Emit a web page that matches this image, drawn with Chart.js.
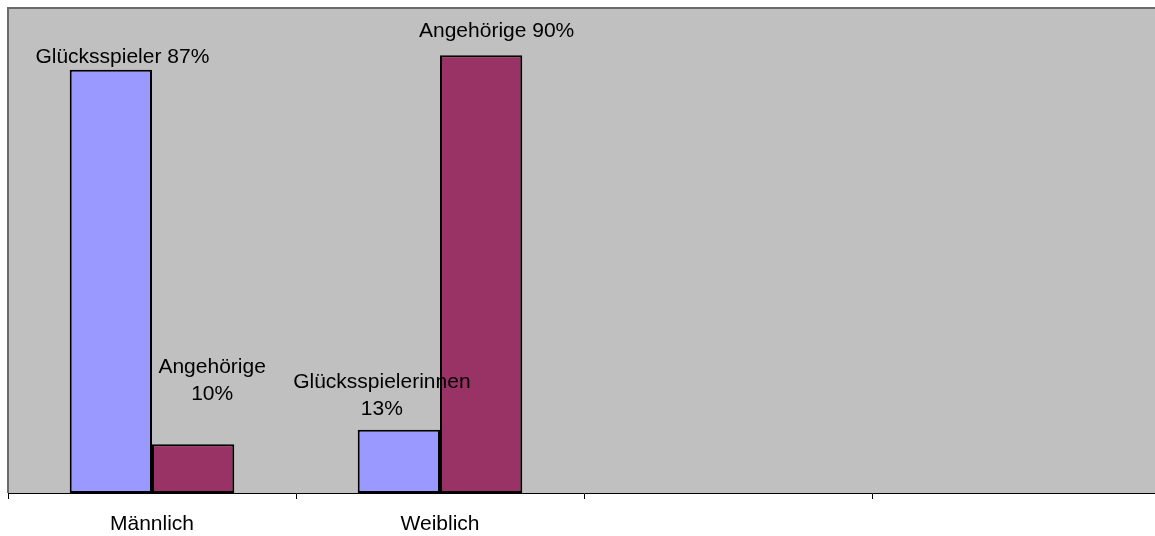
<!DOCTYPE html>
<html lang="de">
<head>
<meta charset="utf-8">
<title>Glücksspieler und Angehörige nach Geschlecht</title>
<script src="https://cdn.jsdelivr.net/npm/chart.js@4/dist/chart.umd.min.js"></script>
<style>
  html, body { margin: 0; padding: 0; background: #ffffff; overflow: hidden; }
  #wrap { width: 1155px; height: 536px; overflow: hidden; position: relative; }
  canvas { display: block; }
</style>
</head>
<body>
<div id="wrap"><canvas id="chart" width="1162" height="536"></canvas></div>
<script>
// Kategorien und Werte (Prozent)
const categories = ['Männlich', 'Weiblich', '', ''];
const spielerWerte = [87, 13, null, null];
const angehoerigeWerte = [10, 90, null, null];
const spielerNamen = ['Glücksspieler', 'Glücksspielerinnen'];
const angehoerigeNamen = ['Angehörige', 'Angehörige'];

const FONT = '"Liberation Sans", Arial, Helvetica, sans-serif';

// Grauer Plotbereich mit Rahmen oben und links
const plotFrame = {
  id: 'plotFrame',
  beforeDatasetsDraw(chart) {
    const { ctx, chartArea: a } = chart;
    ctx.save();
    ctx.fillStyle = '#c0c0c0';
    ctx.fillRect(a.left, a.top, a.right - a.left, a.bottom - a.top);
    ctx.strokeStyle = '#6a6a6a';
    ctx.lineWidth = 2;
    ctx.beginPath();
    ctx.moveTo(a.left, a.bottom);
    ctx.lineTo(a.left, a.top);
    ctx.lineTo(a.right, a.top);
    ctx.stroke();
    ctx.restore();
  }
};

// Datenbeschriftungen, frei neben den Säulen platziert
const barLabels = {
  id: 'barLabels',
  afterDatasetsDraw(chart, args, opts) {
    const { ctx } = chart;
    ctx.save();
    ctx.font = opts.size + 'px ' + FONT;
    ctx.fillStyle = '#000000';
    ctx.textAlign = 'center';
    ctx.textBaseline = 'alphabetic';
    opts.items.forEach(it => {
      const ds = chart.data.datasets[it.dataset];
      const v = ds.data[it.index];
      if (v == null) return;
      const bar = chart.getDatasetMeta(it.dataset).data[it.index];
      const name = ds.names[it.index];
      const lines = it.wrap ? [name, v + '%'] : [name + ' ' + v + '%'];
      const x = bar.x + it.dx;
      const yLast = bar.y + it.dy;
      lines.forEach((t, i) => {
        ctx.fillText(t, x, yLast - (lines.length - 1 - i) * opts.lineHeight);
      });
    });
    ctx.restore();
  }
};

new Chart(document.getElementById('chart'), {
  type: 'bar',
  data: {
    labels: categories,
    datasets: [
      {
        label: 'Glücksspieler/innen',
        data: spielerWerte,
        names: spielerNamen,
        backgroundColor: '#9999ff',
        borderColor: '#000000',
        borderWidth: 2,
        borderSkipped: false
      },
      {
        label: 'Angehörige',
        data: angehoerigeWerte,
        names: angehoerigeNamen,
        backgroundColor: '#993366',
        borderColor: '#000000',
        borderWidth: 2,
        borderSkipped: false
      }
    ]
  },
  options: {
    responsive: false,
    animation: false,
    devicePixelRatio: 1,
    layout: { padding: { left: 8, top: 8, right: 2, bottom: 0 } },
    datasets: {
      bar: { categoryPercentage: 2 / 3.5, barPercentage: 1 }
    },
    plugins: {
      legend: { display: false },
      tooltip: { enabled: false },
      barLabels: {
        size: 21,
        lineHeight: 27,
        items: [
          { dataset: 0, index: 0, dx: 11.5, dy: -7, wrap: false },
          { dataset: 1, index: 0, dx: 19, dy: -44, wrap: true },
          { dataset: 0, index: 1, dx: -17, dy: -15, wrap: true },
          { dataset: 1, index: 1, dx: 15.5, dy: -18.5, wrap: false }
        ]
      }
    },
    scales: {
      x: {
        grid: {
          offset: true,
          drawOnChartArea: false,
          drawTicks: true,
          tickLength: 6,
          color: '#000000',
          lineWidth: 1
        },
        border: { display: true, color: '#000000', width: 1 },
        ticks: {
          color: '#000000',
          padding: 13,
          maxRotation: 0,
          autoSkip: false,
          font: { family: FONT, size: 21 }
        },
        afterFit(scale) { scale.height = 43; }
      },
      y: {
        display: false,
        min: 0,
        max: 99.7
      }
    }
  },
  plugins: [plotFrame, barLabels]
});
</script>
</body>
</html>
